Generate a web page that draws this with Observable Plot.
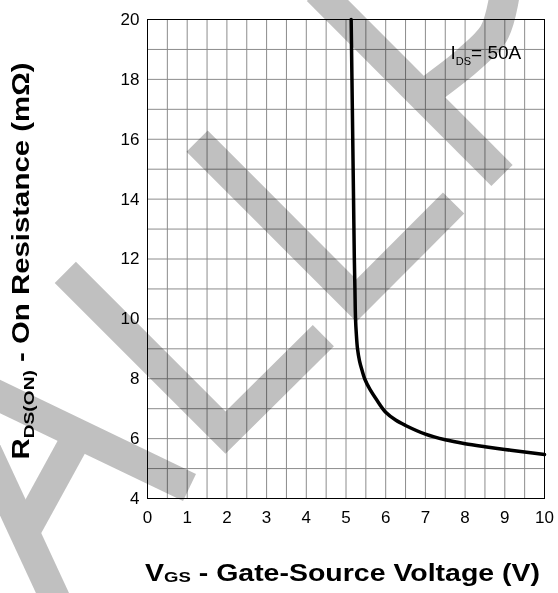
<!DOCTYPE html>
<html><head><meta charset="utf-8">
<script src="https://cdn.jsdelivr.net/npm/d3@7"></script>
<script src="https://cdn.jsdelivr.net/npm/@observablehq/plot@0.6"></script>
<style>body{margin:0;background:#fff}</style>
</head><body><div id="chart"></div>
<script>
// R_DS(on) vs V_GS curve
const vgs = [5.13, 5.15, 5.17, 5.19, 5.21, 5.225, 5.24, 5.26, 5.29, 5.34, 5.40, 5.47, 5.60, 5.78, 6.0, 6.25, 6.5, 7.0, 7.5, 8.0, 8.5, 9.0, 9.5, 10];
const rds = [20, 18, 16, 14, 12, 11, 10, 9.5, 9.0, 8.6, 8.3, 8.0, 7.65, 7.28, 6.88, 6.62, 6.44, 6.15, 5.96, 5.83, 5.73, 5.64, 5.55, 5.47];

const xTicks = [0, 1, 2, 3, 4, 5, 6, 7, 8, 9, 10];
const yTicks = [4, 6, 8, 10, 12, 14, 16, 18, 20];
const xGrid = [0, 0.5, 1, 1.5, 2, 2.5, 3, 3.5, 4, 4.5, 5, 5.5, 6, 6.5, 7, 7.5, 8, 8.5, 9, 9.5, 10];
const yGrid = [4, 5, 6, 7, 8, 9, 10, 11, 12, 13, 14, 15, 16, 17, 18, 19, 20];

const xLabelParts = ["V", "GS", " - Gate-Source Voltage (V)"];
const yLabelParts = ["R", "DS(ON)", " - On Resistance (m\u03A9)"];
const noteParts = ["I", "DS", "= 50A"];

// background watermark strokes (data units)
const wmId = ["A1", "A1", "A2", "A2", "A3", "A3", "L1", "L1", "L1", "L2", "L2", "L2", "P1", "P1"];
const wmX = [-4.71, 1.058, -4.21, -2.19, -3.10, -1.69, -2.07, 1.965, 4.43, 1.25, 5.26, 7.71, 4.28, 8.93];
const wmY = [8.04, 4.37, 6.04, 0.26, 2.86, 6.27, 11.55, 6.20, 9.44, 15.94, 10.61, 13.87, 20.97, 14.79];
const wmArcX = [9.02, 8.97, 8.72, 8.06, 7.23, 6.88];
const wmArcY = [21.30, 20.63, 19.53, 18.63, 17.76, 17.39];

const curve = vgs.map((v, i) => ({v, r: rds[i]}));
const wm = wmId.map((id, i) => ({id, x: wmX[i], y: wmY[i]}));
const wmArc = wmArcX.map((x, i) => ({x, y: wmArcY[i]}));

const FONT = "'Liberation Sans', Arial, Helvetica, sans-serif";

const plot = Plot.plot({
  width: 558,
  height: 593,
  marginLeft: 147,
  marginRight: 14,
  marginTop: 19,
  marginBottom: 95,
  style: {fontFamily: FONT, fontSize: "17px", color: "#000", background: "#fff"},
  x: {domain: [0, 10]},
  y: {domain: [4, 20]},
  marks: [
    Plot.gridX(xGrid, {stroke: "#8c8c8c", strokeOpacity: 1, strokeWidth: 1}),
    Plot.gridY(yGrid, {stroke: "#8c8c8c", strokeOpacity: 1, strokeWidth: 1}),
    Plot.frame({stroke: "#000", strokeWidth: 1}),
    Plot.axisX(xTicks, {tickSize: 0, tickPadding: 12, fontSize: 17, label: null}),
    Plot.axisY(yTicks, {tickSize: 0, tickPadding: 8, fontSize: 17, label: null}),
    Plot.line(wm, {x: "x", y: "y", z: "id", stroke: "#c0c0c0", strokeWidth: 30,
      strokeLinecap: "butt", strokeLinejoin: "miter", strokeMiterlimit: 10, strokeOpacity: 1,
      ariaDescription: "wm-straight"}),
    Plot.line(wmArc, {x: "x", y: "y", curve: "catmull-rom", stroke: "#c0c0c0", strokeWidth: 30,
      strokeLinecap: "butt", strokeLinejoin: "miter", strokeMiterlimit: 10, strokeOpacity: 1,
      ariaDescription: "wm-arc"}),
    Plot.text([xLabelParts.join("")], {text: d => d, frameAnchor: "bottom", textAnchor: "start",
      dx: -201, dy: 82, fontSize: 23, fontWeight: "bold", fill: "#000", ariaDescription: "xlabel"}),
    Plot.text([yLabelParts.join("")], {text: d => d, frameAnchor: "left", textAnchor: "start", rotate: -90,
      dx: -126, dy: 200.5, fontSize: 23, fontWeight: "bold", fill: "#000", ariaDescription: "ylabel"}),
    Plot.text([noteParts.join("")], {text: d => d, frameAnchor: "top-right", textAnchor: "start",
      dx: -94, dy: 25.5, fontSize: 19, fill: "#000", ariaDescription: "note"}),
    Plot.line(curve, {x: "v", y: "r", curve: "catmull-rom", stroke: "#000", strokeWidth: 3.5})
  ]
});

const NS = "http://www.w3.org/2000/svg";
// group the watermark so it blends as one flat layer
const g1 = plot.querySelector('g[aria-description="wm-straight"]');
const g2 = plot.querySelector('g[aria-description="wm-arc"]');
if (g1 && g2) {
  const wrap = document.createElementNS(NS, "g");
  wrap.setAttribute("style", "mix-blend-mode:multiply");
  g1.parentNode.insertBefore(wrap, g1);
  wrap.appendChild(g1);
  wrap.appendChild(g2);
}

function setParts(label, parts, sizes, shifts, length) {
  const t = plot.querySelector(`g[aria-description="${label}"] text`);
  if (!t) return;
  t.textContent = "";
  let prev = 0;
  parts.forEach((s, i) => {
    const ts = document.createElementNS(NS, "tspan");
    ts.textContent = s;
    ts.setAttribute("font-size", sizes[i]);
    ts.setAttribute("dy", shifts[i] - prev);
    prev = shifts[i];
    t.appendChild(ts);
  });
  if (length) {
    t.setAttribute("textLength", length);
    t.setAttribute("lengthAdjust", "spacingAndGlyphs");
  }
}
setParts("xlabel", xLabelParts, [23, 15, 23], [0, 1, 0], 395);
setParts("ylabel", yLabelParts, [23, 15, 23], [0, 5, 0], 397);
setParts("note", noteParts, [19, 11, 19], [0, 7, 0], 0);

document.getElementById("chart").appendChild(plot);
</script>
</body></html>
